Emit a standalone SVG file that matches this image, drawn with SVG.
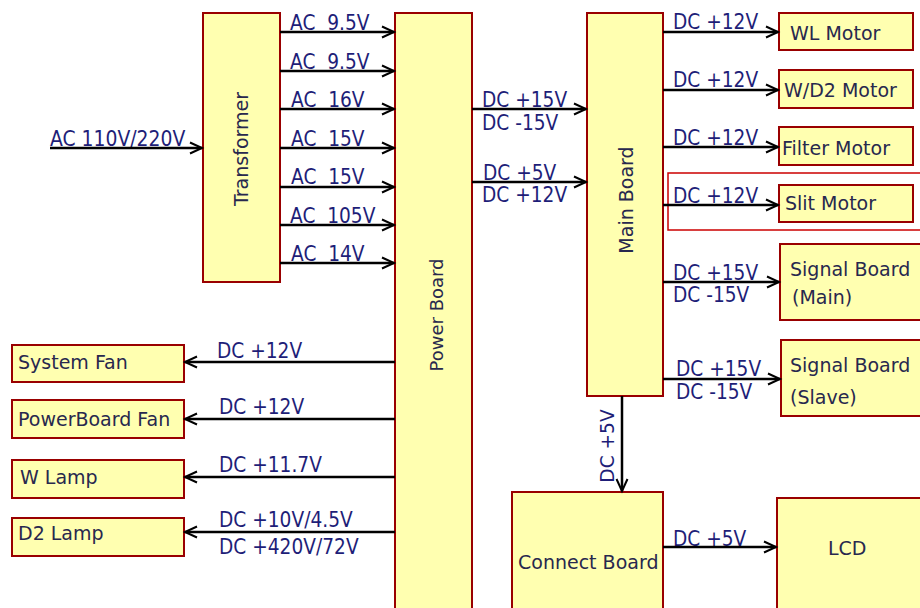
<svg xmlns="http://www.w3.org/2000/svg" width="920" height="608" viewBox="0 0 920 608">
<style>
.box{fill:#ffffb0;stroke:#990000;stroke-width:2}
.t{font-family:"DejaVu Sans",Verdana,sans-serif;font-size:19px;fill:#28284e}
.l{font-family:"DejaVu Sans",Verdana,sans-serif;font-size:18.6px;fill:#1e1e78}
.c{stroke:#000;stroke-width:2.5;fill:none}
</style>
<defs>
<marker id="a" markerUnits="userSpaceOnUse" markerWidth="16" markerHeight="14" refX="13" refY="7" orient="auto">
<path d="M1,1.5 L13,7 L1,12.5" fill="none" stroke="#000" stroke-width="2"/>
</marker>
</defs>
<rect width="920" height="608" fill="#fff"/>

<g id="transformer"><rect class="box" x="203" y="13" width="77" height="269"/><text class="t" transform="translate(248,149) rotate(-90)" text-anchor="middle">Transformer</text></g>
<g id="power-board"><rect class="box" x="395" y="13" width="77" height="610"/><text class="t" transform="translate(443,315) rotate(-90)" text-anchor="middle" style="font-size:18px">Power Board</text></g>
<g id="main-board"><rect class="box" x="587" y="13" width="76" height="383"/><text class="t" transform="translate(633,200) rotate(-90)" text-anchor="middle">Main Board</text></g>
<g id="wl-motor"><rect class="box" x="779" y="13" width="134" height="37"/><text class="t" x="790" y="40">WL Motor</text></g>
<g id="wd2-motor"><rect class="box" x="779" y="70" width="134" height="38"/><text class="t" x="784" y="97">W/D2 Motor</text></g>
<g id="filter-motor"><rect class="box" x="779" y="127" width="134" height="38"/><text class="t" x="782" y="155">Filter Motor</text></g>
<g id="slit-motor"><rect x="668" y="173" width="260" height="57" fill="none" stroke="#cc0000" stroke-width="1.5"/><rect class="box" x="779" y="185" width="134" height="37"/><text class="t" x="785" y="210">Slit Motor</text></g>
<g id="signal-main"><rect class="box" x="780" y="244" width="150" height="76"/><text class="t" x="790" y="276">Signal Board</text><text class="t" x="792" y="304">(Main)</text></g>
<g id="signal-slave"><rect class="box" x="781" y="340" width="150" height="76"/><text class="t" x="790" y="372">Signal Board</text><text class="t" x="790" y="404">(Slave)</text></g>
<g id="connect-board"><rect class="box" x="512" y="492" width="151" height="130"/><text class="t" x="518" y="569">Connect Board</text></g>
<g id="lcd"><rect class="box" x="777" y="498" width="160" height="130"/><text class="t" x="828" y="555">LCD</text></g>
<g id="system-fan"><rect class="box" x="12" y="345" width="172" height="37"/><text class="t" x="18" y="369">System Fan</text></g>
<g id="powerboard-fan"><rect class="box" x="12" y="400" width="172" height="38"/><text class="t" x="18" y="426">PowerBoard Fan</text></g>
<g id="w-lamp"><rect class="box" x="12" y="460" width="172" height="38"/><text class="t" x="20" y="484">W Lamp</text></g>
<g id="d2-lamp"><rect class="box" x="12" y="518" width="172" height="38"/><text class="t" x="18" y="540">D2 Lamp</text></g>

<g id="labels">
<text class="l" transform="translate(50,146) scale(1.01,1.12)">AC 110V/220V</text>
<text class="l" transform="translate(290,30) scale(1,1.12)" xml:space="preserve">AC  9.5V</text>
<text class="l" transform="translate(290,69) scale(1,1.12)" xml:space="preserve">AC  9.5V</text>
<text class="l" transform="translate(291,107) scale(1,1.12)" xml:space="preserve">AC  16V</text>
<text class="l" transform="translate(291,146) scale(1,1.12)" xml:space="preserve">AC  15V</text>
<text class="l" transform="translate(291,184) scale(1,1.12)" xml:space="preserve">AC  15V</text>
<text class="l" transform="translate(290,223) scale(1,1.12)" xml:space="preserve">AC  105V</text>
<text class="l" transform="translate(291,261) scale(1,1.12)" xml:space="preserve">AC  14V</text>
<text class="l" transform="translate(482,107) scale(1,1.12)">DC +15V</text>
<text class="l" transform="translate(482,130) scale(1,1.12)">DC -15V</text>
<text class="l" transform="translate(483,180) scale(1,1.12)">DC +5V</text>
<text class="l" transform="translate(482,202) scale(1,1.12)">DC +12V</text>
<text class="l" transform="translate(673,29) scale(1,1.12)">DC +12V</text>
<text class="l" transform="translate(673,87) scale(1,1.12)">DC +12V</text>
<text class="l" transform="translate(673,145) scale(1,1.12)">DC +12V</text>
<text class="l" transform="translate(673,203) scale(1,1.12)">DC +12V</text>
<text class="l" transform="translate(673,280) scale(1,1.12)">DC +15V</text>
<text class="l" transform="translate(673,302) scale(1,1.12)">DC -15V</text>
<text class="l" transform="translate(676,376) scale(1,1.12)">DC +15V</text>
<text class="l" transform="translate(676,399) scale(1,1.12)">DC -15V</text>
<text class="l" transform="translate(614,446) rotate(-90) scale(1,1.08)" text-anchor="middle">DC +5V</text>
<text class="l" transform="translate(673,546) scale(1,1.12)">DC +5V</text>
<text class="l" transform="translate(217,358) scale(1,1.12)">DC +12V</text>
<text class="l" transform="translate(219,414) scale(1,1.12)">DC +12V</text>
<text class="l" transform="translate(219,472) scale(1,1.12)">DC +11.7V</text>
<text class="l" transform="translate(219,527) scale(1,1.12)">DC +10V/4.5V</text>
<text class="l" transform="translate(219,554) scale(1,1.12)">DC +420V/72V</text>
</g>

<g id="connectors">
<line class="c" x1="50" y1="148" x2="202" y2="148" marker-end="url(#a)"/>
<line class="c" x1="280" y1="32" x2="394" y2="32" marker-end="url(#a)"/>
<line class="c" x1="280" y1="71" x2="394" y2="71" marker-end="url(#a)"/>
<line class="c" x1="280" y1="109" x2="394" y2="109" marker-end="url(#a)"/>
<line class="c" x1="280" y1="148" x2="394" y2="148" marker-end="url(#a)"/>
<line class="c" x1="280" y1="187" x2="394" y2="187" marker-end="url(#a)"/>
<line class="c" x1="280" y1="225" x2="394" y2="225" marker-end="url(#a)"/>
<line class="c" x1="280" y1="263" x2="394" y2="263" marker-end="url(#a)"/>
<line class="c" x1="472" y1="109" x2="586" y2="109" marker-end="url(#a)"/>
<line class="c" x1="472" y1="182" x2="586" y2="182" marker-end="url(#a)"/>
<line class="c" x1="663" y1="32" x2="778" y2="32" marker-end="url(#a)"/>
<line class="c" x1="663" y1="90" x2="778" y2="90" marker-end="url(#a)"/>
<line class="c" x1="663" y1="147" x2="778" y2="147" marker-end="url(#a)"/>
<line class="c" x1="663" y1="205" x2="778" y2="205" marker-end="url(#a)"/>
<line class="c" x1="663" y1="282" x2="779" y2="282" marker-end="url(#a)"/>
<line class="c" x1="663" y1="379" x2="780" y2="379" marker-end="url(#a)"/>
<line class="c" x1="622" y1="396" x2="622" y2="491" marker-end="url(#a)"/>
<line class="c" x1="663" y1="547" x2="776" y2="547" marker-end="url(#a)"/>
<line class="c" x1="395" y1="362" x2="185" y2="362" marker-end="url(#a)"/>
<line class="c" x1="395" y1="419" x2="185" y2="419" marker-end="url(#a)"/>
<line class="c" x1="395" y1="477" x2="185" y2="477" marker-end="url(#a)"/>
<line class="c" x1="395" y1="532" x2="185" y2="532" marker-end="url(#a)"/>
</g>
</svg>
